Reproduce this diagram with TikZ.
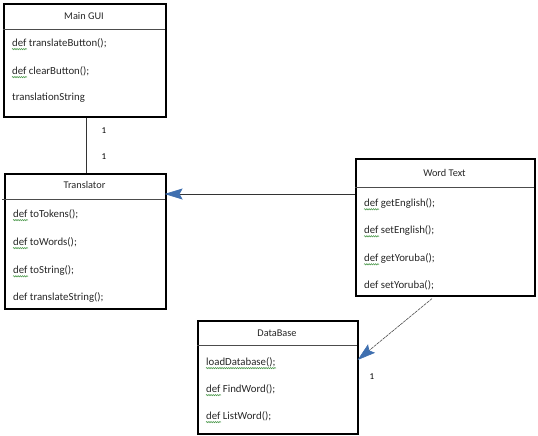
\documentclass[tikz,border=0pt]{standalone}
\usepackage{fontspec}
\setmainfont{Carlito}
\usetikzlibrary{arrows.meta,decorations.pathmorphing}
\definecolor{offblue}{HTML}{3F6FAF}
\definecolor{squig}{HTML}{4E9A4E}
\tikzset{
  classbox/.style={draw=black, line width=1.6pt, anchor=north west, inner sep=0pt},
  hdr/.style={draw=black!70, line width=0.8pt},
  lbl/.style={anchor=west, inner sep=0pt, text=black!85, font=\fontsize{10.8pt}{12pt}\selectfont},
  ttl/.style={inner sep=0pt, text=black!85, font=\fontsize{10.3pt}{12pt}\selectfont},
  mult/.style={inner sep=0pt, font=\fontsize{9pt}{10pt}\selectfont},
  squiggle/.style={draw=squig, line width=0.6pt, decorate, decoration={snake, amplitude=0.6pt, segment length=2.2pt}},
  conn/.style={draw=black!80, line width=0.8pt},
  assoc/.style={draw=black!70, line width=0.6pt, dash pattern=on 3pt off 0.8pt},
  tip/.style={-{Stealth[length=18pt,width=11pt,inset=3pt,fill=offblue,color=offblue]}}
}
\begin{document}
\begin{tikzpicture}[x=1pt,y=1pt]
\useasboundingbox (0,0) rectangle (538,-436);
% Main GUI
\node[classbox, minimum width=162pt, minimum height=113pt] (gui) at (3,-3) {};
\draw[hdr] (3,-29.5) -- (165,-29.5);
\node[ttl] (guit) at (84,-16) {Main GUI};
\node[lbl] (g1) at (12,-43) {def translateButton();};
\node[lbl] (g2) at (12,-71) {def clearButton();};
\node[lbl] (g3) at (12,-98) {translationString};
% Translator
\node[classbox, minimum width=161pt, minimum height=135pt] (trans) at (4,-173) {};
\draw[hdr] (2,-199) -- (165,-199);
\node[ttl] (transt) at (84.5,-185) {Translator};
\node[lbl] (t1) at (13,-214) {def toTokens();};
\node[lbl] (t2) at (13,-242) {def toWords();};
\node[lbl] (t3) at (13,-270) {def toString();};
\node[lbl] (t4) at (13,-297) {def translateString();};
% Word Text
\node[classbox, minimum width=179pt, minimum height=137pt] (word) at (355,-158) {};
\draw[hdr] (355,-187) -- (534,-187);
\node[ttl] (wordt) at (444.5,-173) {Word Text};
\node[lbl] (w1) at (364,-203) {def getEnglish();};
\node[lbl] (w2) at (364,-230) {def setEnglish();};
\node[lbl] (w3) at (364,-258) {def getYoruba();};
\node[lbl] (w4) at (364,-285) {def setYoruba();};
% DataBase
\node[classbox, minimum width=160pt, minimum height=113pt] (db) at (197,-320) {};
\draw[hdr] (197,-345) -- (357,-345);
\node[ttl] (dbt) at (277,-333) {DataBase};
\node[lbl] (d1) at (206,-362) {loadDatabase();};
\node[lbl] (d2) at (206,-389) {def FindWord();};
\node[lbl] (d3) at (206,-416) {def ListWord();};
% spelling squiggles
\foreach \n in {g1, g2, t1, t2, t3, w1, w2, w3, d2, d3} {
  \draw[squiggle] ([yshift=-1.2pt]\n.south west) -- ++(15,0);
}
\draw[squiggle] ([yshift=-1.2pt]d1.south west) -- ++(70,0);
% connectors
\draw[conn] (gui.south -| 86,0) -- (trans.north -| 86,0);
\node[mult] (m1) at (104,-131) {1};
\node[mult] (m2) at (104,-157) {1};
\draw[conn, tip] ([yshift=-36pt]word.north west) -- ([xshift=-2pt,yshift=-21pt]trans.north east);
\draw[assoc, tip] ([xshift=77pt,yshift=-2pt]word.south west) -- ([xshift=-1pt,yshift=-40pt]db.north east);
\node[mult] (m3) at (372,-377) {1};
\end{tikzpicture}
\end{document}
